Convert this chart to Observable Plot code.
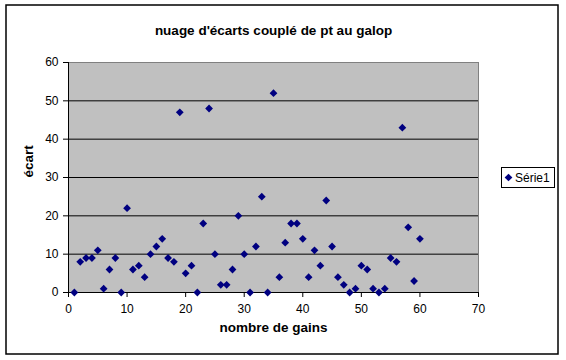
<!DOCTYPE html>
<html><head><meta charset="utf-8">
<script src="https://cdn.jsdelivr.net/npm/d3@7"></script>
<script src="https://cdn.jsdelivr.net/npm/@observablehq/plot@0.6"></script>
<style>
body{margin:0;background:#fff;}
svg{display:block;}
</style>
</head><body><div id="chart"></div>
<script>
const gains = [1,2,3,4,5,6,7,8,9,10,11,12,13,14,15,16,17,18,19,20,21,22,23,24,25,26,27,28,29,30,31,32,33,34,35,36,37,38,39,40,41,42,43,44,45,46,47,48,49,50,51,52,53,54,55,56,57,58,59,60];
const ecarts = [0,8,9,9,11,1,6,9,0,22,6,7,4,10,12,14,9,8,47,5,7,0,18,48,10,2,2,6,20,10,0,12,25,0,52,4,13,18,18,14,4,11,7,24,12,4,2,0,1,7,6,1,0,1,9,8,43,17,3,14];
const xTicks = [0,10,20,30,40,50,60,70];
const yTicks = [0,10,20,30,40,50,60];
const title = "nuage d'écarts couplé de pt au galop";
const xLabel = "nombre de gains";
const yLabel = "écart";
const seriesName = "Série1";

const data = gains.map((g, i) => ({gains: g, ecart: ecarts[i]}));
const font = '"Liberation Sans", Arial, sans-serif';

const plot = Plot.plot({
  width: 566, height: 360,
  marginLeft: 68, marginRight: 88, marginTop: 62, marginBottom: 68,
  style: {fontFamily: font, fontSize: "12px", background: "white", color: "black", overflow: "visible"},
  x: {domain: [0, 70], ticks: xTicks, label: null},
  y: {domain: [0, 60], ticks: yTicks, label: null},
  marks: [
    Plot.frame({fill: "#c0c0c0", stroke: "#808080"}),
    Plot.ruleY(yTicks.filter(d => d > 0 && d < 60), {stroke: "black"}),
    Plot.ruleX([0], {stroke: "black"}),
    Plot.ruleY([0], {stroke: "black"}),
    Plot.axisX({ticks: xTicks, tickSize: 5, tickPadding: 7, label: null, fontSize: 12}),
    Plot.axisY({ticks: yTicks, tickSize: 5, tickPadding: 5, label: null, fontSize: 12}),
    Plot.dot(data, {x: "gains", y: "ecart", symbol: "diamond2", fill: "#000080", stroke: "none", r: 3.5}),
    Plot.text([title], {frameAnchor: "top", dy: -37, fontWeight: "bold", fontSize: 13.5}),
    Plot.text([xLabel], {frameAnchor: "bottom", dy: 39, fontWeight: "bold", fontSize: 13.5}),
    Plot.text([yLabel], {frameAnchor: "left", dx: -40, rotate: -90, fontWeight: "bold", fontSize: 13.5})
  ]
});

const svg = d3.select(plot);
svg.append("rect").attr("x", 6).attr("y", 5).attr("width", 552).attr("height", 349)
  .attr("fill", "none").attr("stroke", "black").attr("stroke-width", 1.5);
const lg = svg.append("g");
lg.append("rect").attr("x", 501.5).attr("y", 167.5).attr("width", 53).attr("height", 20)
  .attr("fill", "white").attr("stroke", "black");
lg.append("path").attr("transform", "translate(508.5,177.5)")
  .attr("d", d3.symbol(d3.symbolDiamond2, 38)()).attr("fill", "#000080");
lg.append("text").attr("x", 515).attr("y", 177.5).attr("dy", "0.35em")
  .attr("text-anchor", "start")
  .attr("font-family", font).attr("font-size", 12).text(seriesName);

document.getElementById("chart").appendChild(plot);
</script>
</body></html>
